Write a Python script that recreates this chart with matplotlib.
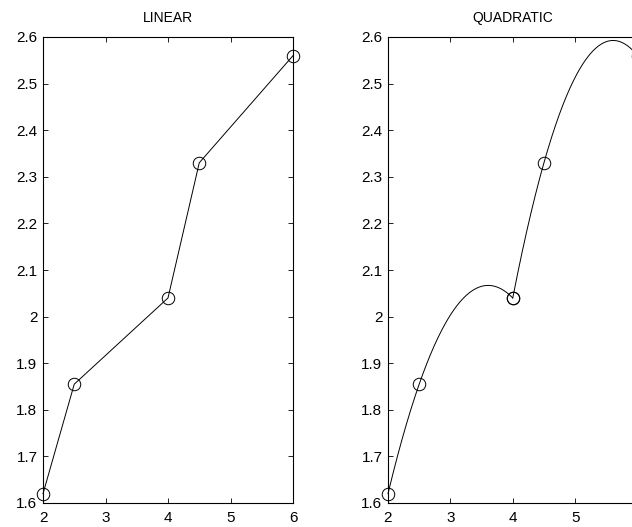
import numpy as np
import matplotlib
matplotlib.use("Agg")
import matplotlib.pyplot as plt
from matplotlib.ticker import FuncFormatter

plt.rcParams['font.family'] = ['Liberation Sans', 'DejaVu Sans']

x = [2, 2.5, 4, 4.5, 6]
y = [1.62, 1.855, 2.04, 2.33, 2.56]
titles = ["LINEAR", "QUADRATIC"]
xticks = [2, 3, 4, 5, 6]
yticks = [1.6, 1.7, 1.8, 1.9, 2.0, 2.1, 2.2, 2.3, 2.4, 2.5, 2.6]

W, H = 632, 527
fig = plt.figure(figsize=(W / 100, H / 100), dpi=100)

def px_axes(l, t, w, h):
    return fig.add_axes([l / W, (H - t - h) / H, w / W, h / H])

ax1 = px_axes(43, 37, 250, 466)
ax2 = px_axes(388, 37, 249.5, 466)

fmt = FuncFormatter(lambda v, p: ("%g" % round(v, 2)))

for ax, t in zip([ax1, ax2], titles):
    ax.set_xlim(2, 6)
    ax.set_ylim(1.6, 2.6)
    ax.set_xticks(xticks)
    ax.set_yticks(yticks)
    ax.yaxis.set_major_formatter(fmt)
    ax.xaxis.set_major_formatter(fmt)
    ax.tick_params(direction='in', length=3.5, width=0.6, top=True, right=True,
                   labelsize=11, colors='black')
    ax.tick_params(axis='y', pad=4)
    ax.tick_params(axis='x', pad=6)
    for s in ax.spines.values():
        s.set_linewidth(0.8)
    ax.set_title(t, fontsize=10, pad=11)

# the right panel's last tick label lies outside the picture
fig.canvas.draw()
ax2.get_xticklabels()[-1].set_visible(False)

# Linear
ax1.plot(x, y, color='black', linewidth=0.7, marker='o', markersize=9,
         markerfacecolor='none', markeredgewidth=0.7, clip_on=False)

# Quadratic: piecewise quadratic through consecutive triples
for i in (0, 2):
    xs, ys = x[i:i + 3], y[i:i + 3]
    c = np.polyfit(xs, ys, 2)
    xx = np.linspace(xs[0], xs[-1], 200)
    ax2.plot(xx, np.polyval(c, xx), color='black', linewidth=0.7, clip_on=False)
    ax2.plot(xs, ys, linestyle='none', marker='o', markersize=9,
             markerfacecolor='none', markeredgecolor='black',
             markeredgewidth=0.7, clip_on=False)

fig.savefig("out.png", dpi=100)
